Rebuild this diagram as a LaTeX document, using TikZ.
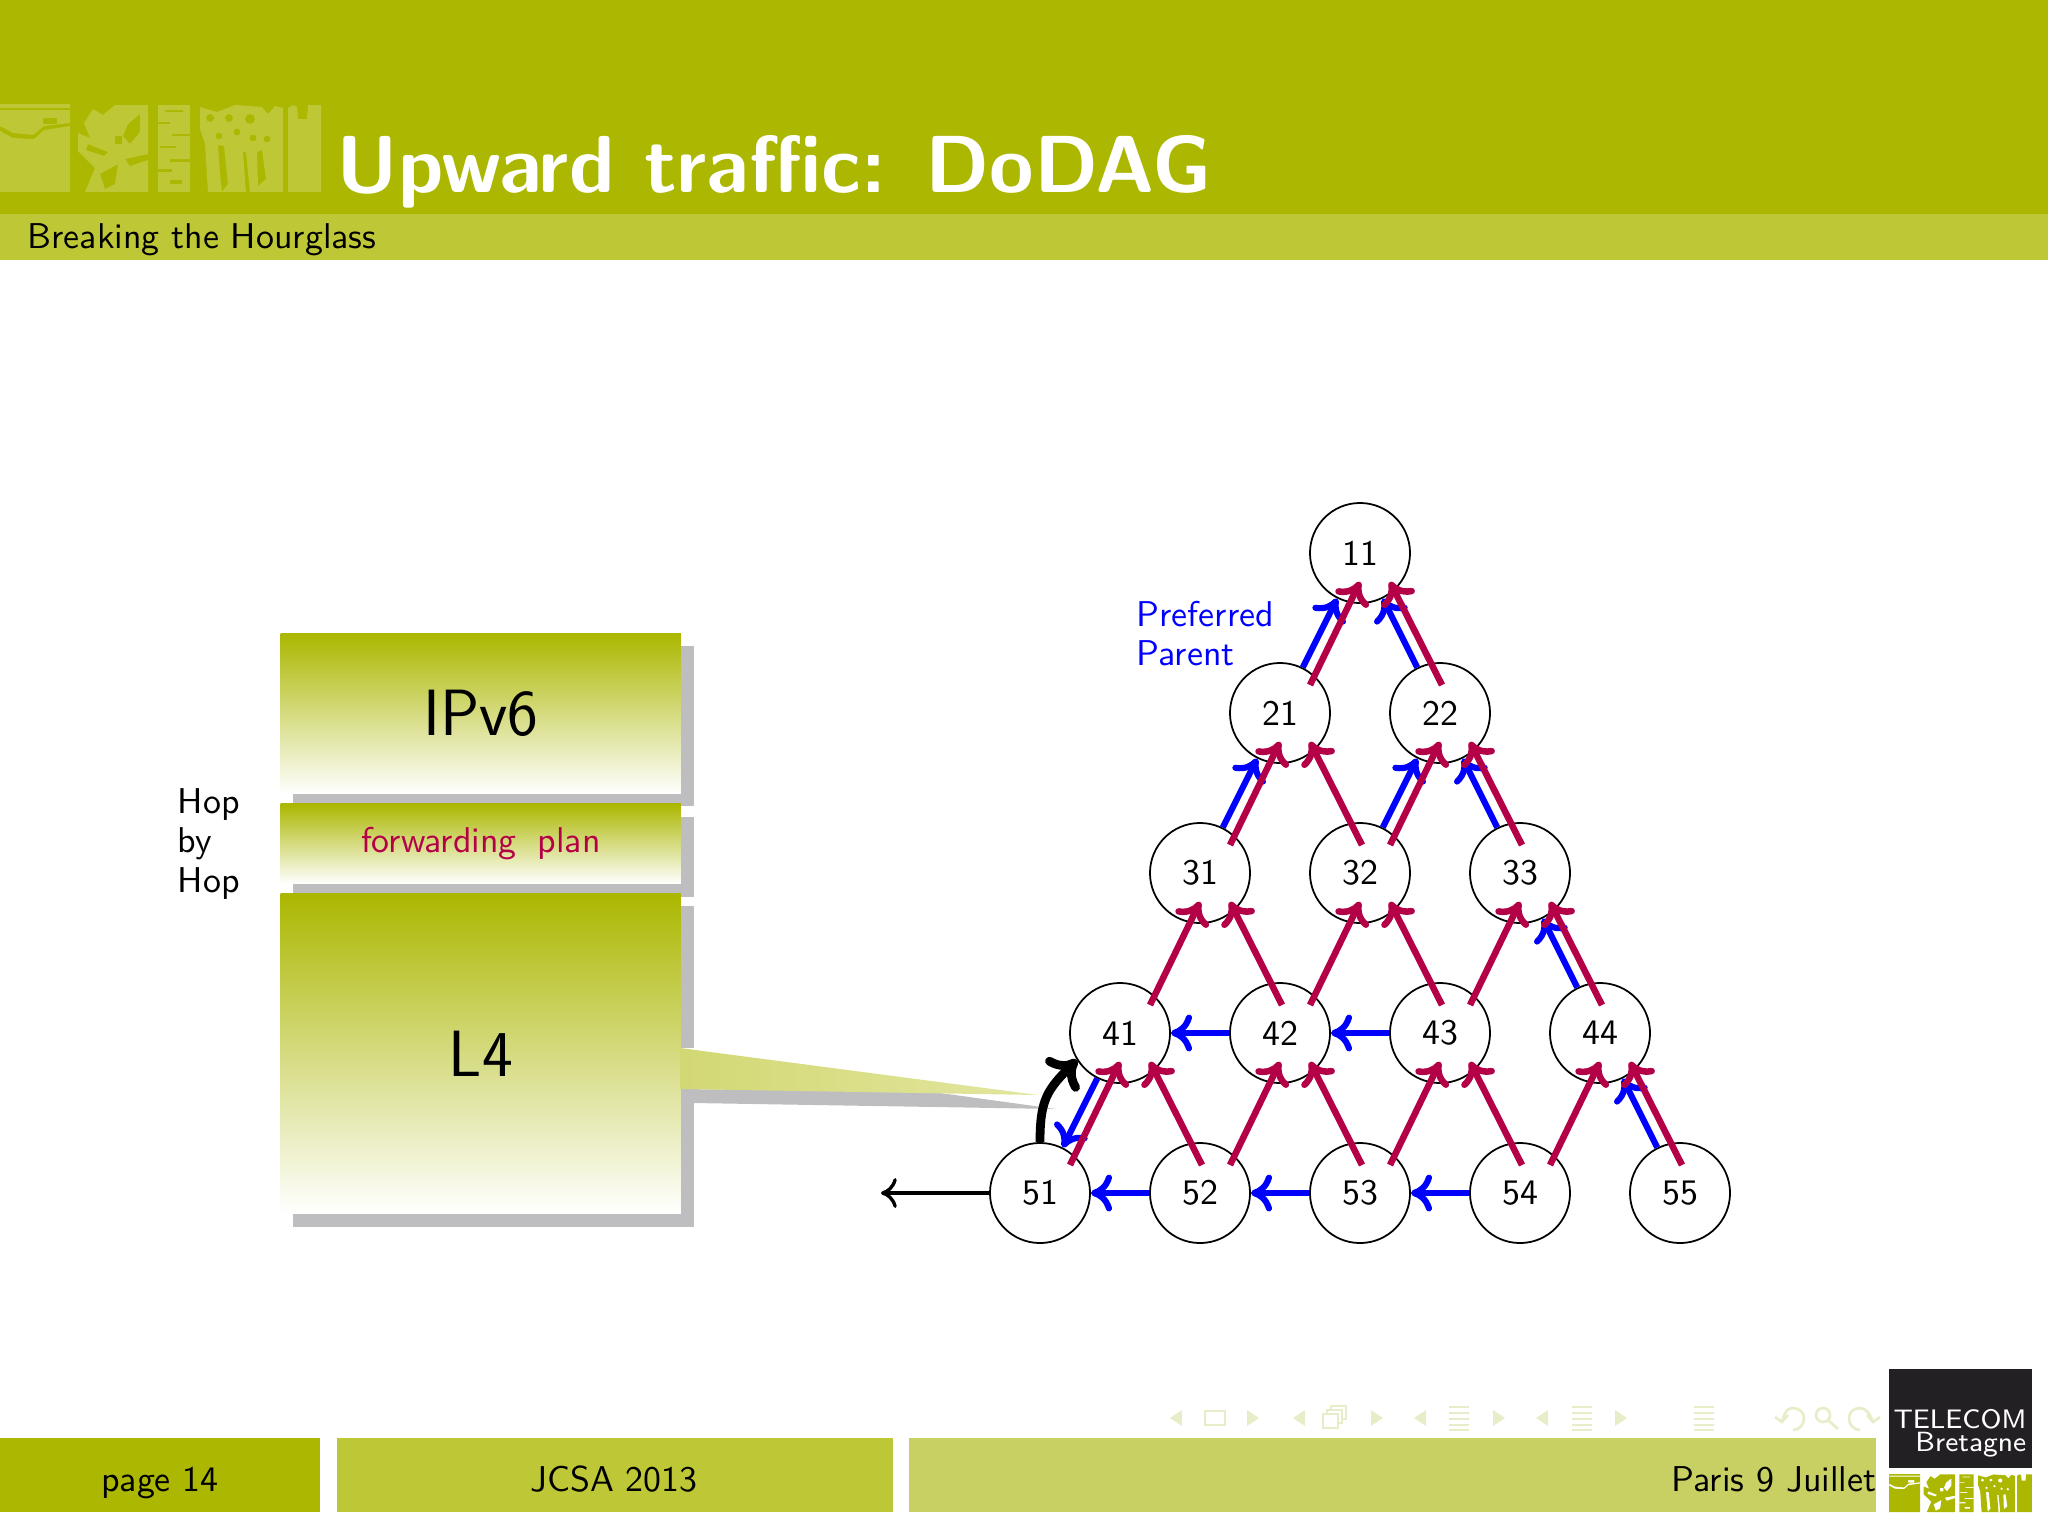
\documentclass[tikz,border=0pt]{standalone}
\usepackage{xcolor}
\definecolor{tbolive}{RGB}{171,183,0}
\definecolor{tbolive2}{RGB}{190,200,55}
\definecolor{tbolive3}{RGB}{201,208,99}
\definecolor{tbpale}{RGB}{233,236,200}
\definecolor{tbwedge}{RGB}{210,216,115}
\definecolor{tbwedge2}{RGB}{226,230,160}
\definecolor{tbshadow}{RGB}{190,190,193}
\definecolor{tbpurple}{RGB}{180,0,70}
\definecolor{tbblack}{RGB}{35,32,36}
\usepackage{tikz}
\usetikzlibrary{arrows.meta, positioning, calc}
\newcommand{\stdfont}{\sffamily\fontsize{10.2}{11.2}\selectfont}
\newcommand{\bigfont}{\sffamily\fontsize{18.6}{20}\selectfont}
\tikzset{
  mote/.style={draw=black, circle, fill=white, minimum size=1cm, inner sep=0pt, line width=0.5pt, font=\stdfont},
  prefedge/.style={draw=blue, line width=1.75pt, -{Computer Modern Rightarrow[length=6pt, width=10.5pt]}},
  upedge/.style={draw=tbpurple, line width=1.85pt, -{Computer Modern Rightarrow[length=6pt, width=10.5pt]}},
  layerbox/.style={inner sep=0pt, top color=tbolive, bottom color=white, draw=none, minimum width=4cm, font=\stdfont},
  shadowbar/.style={fill=tbshadow, draw=none},
  barlabel/.style={font=\stdfont, inner sep=0pt, anchor=base},
  navmark/.style={fill=tbpale, draw=none},
  navline/.style={draw=tbpale, line width=0.75pt, fill=none},
  logomark/.pic={
    % panel by panel, holes by even odd rule
    \fill[even odd rule] (0,0) rectangle (70,88)
      (0,4) rectangle (70,6)
      (0,22) -- (13,29) -- (33,31) -- (44,22) -- (70,19) -- (70,22) -- (44,26) -- (34,35) -- (13,34) -- (0,27) -- cycle
      (43,14) rectangle (57,20);
    \fill[even odd rule] (93,5) -- (103,11) -- (110,5) -- (115,1) -- (148,1) -- (148,88) -- (85,88) -- (95,64) -- (78,47) -- (78,29) -- (90,34) -- (84,19) -- cycle
      (140,10) -- (128,20) -- (123,32) -- (130,40) -- (140,28) -- cycle
      (115,32) rectangle (122,40)
      (100,70) -- (118,60) -- (115,80) -- (105,85) -- cycle
      (88,40) -- (108,48) -- (104,52) -- (86,46) -- cycle
      (125,55) -- (148,50) -- (148,56) -- (130,62) -- cycle;
    \fill[even odd rule] (158,1) rectangle (190,88)
      (165,6) rectangle (183,8)
      (158,18) rectangle (170,20)
      (172,30) rectangle (190,32)
      (160,42) rectangle (176,44)
      (170,55) rectangle (190,58)
      (158,65) rectangle (172,68)
      (170,76) rectangle (182,80);
    \fill[even odd rule] (200,3) -- (217,8) -- (235,1) -- (262,3) -- (268,10) -- (275,2) -- (283,4) -- (283,88) -- (208,88) -- (205,40) -- (200,25) -- cycle
      (210,14) circle (4) (229,14) circle (4) (250,15) circle (5) (237,28) circle (3.5)
      (219,32) circle (3.5) (253,34) circle (3.5) (267,35) circle (3.5)
      (218,41) -- (224,42) -- (228,80) -- (222,88) -- (220,70) -- cycle
      (257,48) -- (262,46) -- (266,75) -- (258,82) -- cycle
      (243,48) -- (246,48) -- (250,88) -- (246,88) -- cycle;
    \fill (288,4) -- (293,1) -- (297,3) -- (298,15) -- (307,15) -- (308,1) -- (321,1) -- (321,88) -- (288,88) -- cycle;
  },
}
\begin{document}
\begin{tikzpicture}[x=0.01cm, y=-0.01cm]
\useasboundingbox (0,0) rectangle (2048,1536);
% title bars
\fill[tbolive] (0,0) rectangle (2048,214);
\fill[tbolive2] (0,214) rectangle (2048,260);
\pic[tbolive2] at (0,104) {logomark};
\node[text=white, inner sep=0pt, anchor=base west, font=\sffamily\bfseries\fontsize{23}{28}\selectfont] (slidetitle) at (336,192) {Upward traffic: DoDAG};
\node[barlabel, anchor=base west] (subtitle) at (27,248) {Breaking the Hourglass};
% footer
\fill[tbolive] (0,1438) rectangle (320,1512);
\fill[tbolive2] (337,1438) rectangle (893,1512);
\fill[tbolive3] (909,1438) rectangle (1876,1512);
\node[barlabel] (pagelabel) at (160,1491) {page 14};
\node[barlabel] (eventlabel) at (614,1491) {JCSA 2013};
\node[barlabel, anchor=base east] (placelabel) at (1877,1491) {Paris 9 Juillet};
% nav symbols
\foreach \x in {1176,1299,1420,1542}
  \fill[navmark] (\x+6,1410) -- (\x-6,1418) -- (\x+6,1426) -- cycle;
\foreach \x in {1253,1377,1499,1621}
  \fill[navmark] (\x-6,1410) -- (\x+6,1418) -- (\x-6,1426) -- cycle;
\draw[navline] (1205,1411) rectangle (1225,1425);
\draw[navline] (1323,1414) rectangle (1338,1428) (1327,1414) -- (1327,1410) -- (1342,1410) -- (1342,1423) -- (1338,1423) (1331,1410) -- (1331,1406) -- (1346,1406) -- (1346,1419) -- (1342,1419);
\foreach \x in {1459,1582,1704}
  \foreach \y in {1407,1413,1419,1425,1430}
    \draw[navline] (\x-10,\y) -- (\x+10,\y);
\draw[navline] (1793,1430) .. controls (1800,1430) and (1804,1424) .. (1804,1418) .. controls (1804,1412) and (1799,1408) .. (1792,1408) .. controls (1787,1408) and (1784,1414) .. (1782,1422);
\draw[navline] (1775,1417) -- (1782,1422) -- (1788,1415);
\draw[navline] (1823,1415) circle (7) (1828,1420) -- (1838,1429);
\draw[navline] (1860,1430) .. controls (1853,1430) and (1849,1424) .. (1849,1418) .. controls (1849,1412) and (1854,1408) .. (1860,1408) .. controls (1866,1408) and (1870,1414) .. (1873,1422);
\draw[navline] (1880,1417) -- (1873,1422) -- (1867,1415);
% logo corner
\fill[tbblack] (1889,1369) rectangle (2032,1468);
\node[text=white, font=\sffamily\fontsize{7.6}{9}\selectfont, inner sep=0pt, anchor=base east] (telecomtxt) at (2027,1428) {TELECOM};
\node[text=white, font=\sffamily\fontsize{7.9}{9}\selectfont, inner sep=0pt, anchor=base east] (bretagnetxt) at (2027,1451) {Bretagne};
\begin{scope}[shift={(1889,1474)}]
\pic[tbolive, xscale=0.445, yscale=0.432] at (0,0) {logomark};
\end{scope}
% protocol stack
\fill[shadowbar] (293,646) rectangle (694,806);
\node[layerbox, minimum height=1.6cm, anchor=north west, font=\bigfont] (ipv6box) at (280,633) {IPv6};
\fill[shadowbar] (293,817) rectangle (694,897);
\node[layerbox, minimum height=0.8cm, anchor=north west, text=tbpurple] (fwdbox) at (280,803) {forwarding\hspace{.25em} plan};
\fill[shadowbar] (293,906) rectangle (694,1227);
\fill[white] (680,1048) rectangle (694,1089);
\fill[shadowbar] (680,1089) -- (933,1092) -- (1056,1109) -- (693,1103) -- cycle;
\node[layerbox, minimum height=3.2cm, anchor=north west, font=\bigfont] (l4box) at (280,893) {L4};
\shade[left color=tbwedge, right color=tbwedge2] (680,1048) -- (1038,1095) -- (680,1089) -- cycle;
\node[font=\stdfont, inner sep=0pt, align=left, anchor=west] (hoplabel) at (177,844) {Hop\\by\\Hop};
\node[font=\stdfont, text=blue, inner sep=0pt, align=left, anchor=north west] (parentlabel) at (1136,600) {Preferred\\Parent};
% motes
\foreach \name/\x/\y in {11/1360/553,
    21/1280/713, 22/1440/713,
    31/1200/873, 32/1360/873, 33/1520/873,
    41/1120/1033, 42/1280/1033, 43/1440/1033, 44/1600/1033,
    51/1040/1193, 52/1200/1193, 53/1360/1193, 54/1520/1193, 55/1680/1193}
  \node[mote] (n\name) at (\x,\y) {\name};
\coordinate (sinkend) at (881,1193);
% preferred parent
\foreach \a/\b in {21/11, 22/11, 31/21, 32/22, 33/22, 44/33, 55/44, 41/51,
    42/41, 43/42, 52/51, 53/52, 54/53}
  \draw[prefedge] (n\a) -- (n\b);
% all parents
\foreach \a/\b in {21/11, 31/21, 32/22, 41/31, 42/32, 43/33, 51/41, 52/42, 53/43, 54/44}
  \draw[upedge] ([shift={(30,-28)}]n\a.center) -- ([shift={(0,29)}]n\b.center);
\foreach \a/\b in {22/11, 32/21, 33/22, 42/31, 43/32, 44/33, 52/41, 53/42, 54/43, 55/44}
  \draw[upedge] ([shift={(2,-28)}]n\a.center) -- ([shift={(30,29)}]n\b.center);
\draw[black, line width=0.95pt, -{Computer Modern Rightarrow[length=4.5pt, width=8.5pt]}] (n51) -- (sinkend);
\draw[black, line width=2.5pt, -{Computer Modern Rightarrow[length=7pt, width=13pt]}] (n51.north) to[out=90, in=225, looseness=1.2] (n41.212);
\end{tikzpicture}
\end{document}
